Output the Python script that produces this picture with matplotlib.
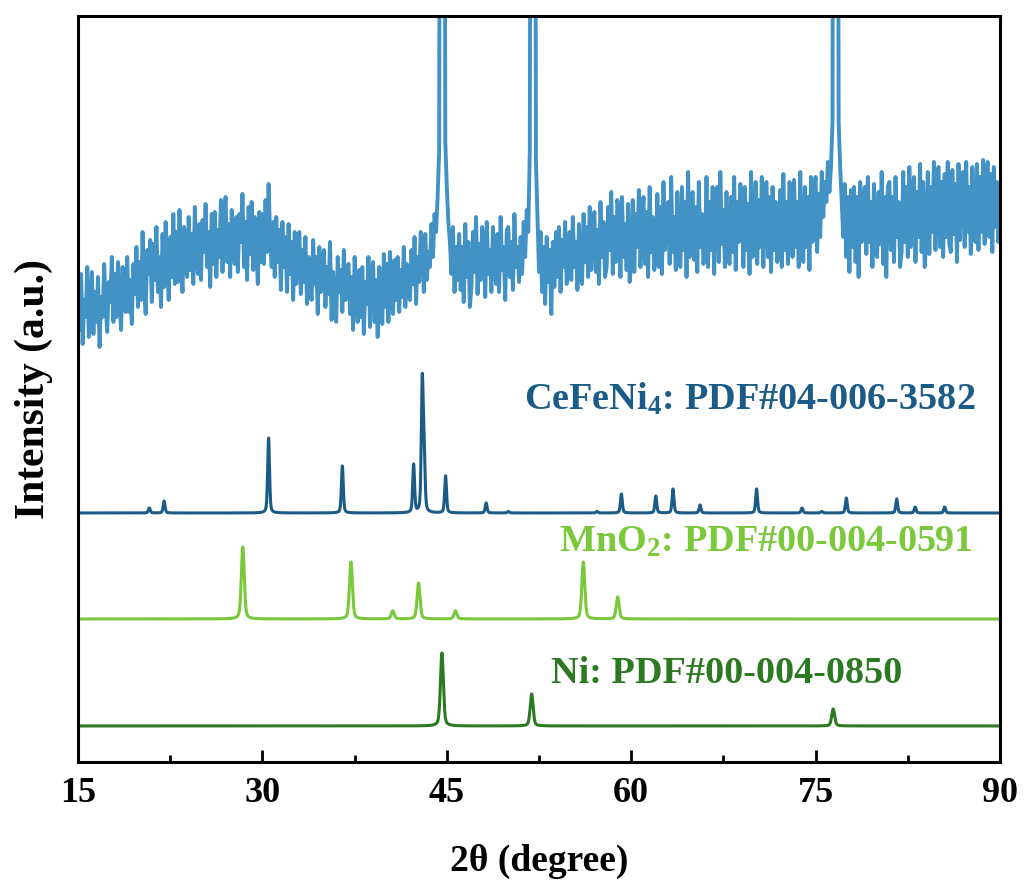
import numpy as np
import matplotlib
matplotlib.use('Agg')
import matplotlib.pyplot as plt
from matplotlib.ticker import MultipleLocator

plt.rcParams['font.family'] = ['Liberation Serif', 'DejaVu Serif']
plt.rcParams['font.weight'] = 'bold'
plt.rcParams['mathtext.fontset'] = 'custom'
plt.rcParams['mathtext.rm'] = 'Liberation Serif:bold'
plt.rcParams['mathtext.it'] = 'Liberation Serif:bold'
plt.rcParams['mathtext.bf'] = 'Liberation Serif:bold'

# measured pattern, 0.125 deg steps from 15 to 90 (one row per degree, offset units)
exp_start, exp_step = 15.0, 0.125
exp_y = [
    470, 432, 488, 418, 462, 445, 495, 425,   # 15
    452, 490, 428, 470, 440, 485, 415, 465,   # 16
    445, 498, 455, 430, 480, 460, 505, 440,   # 17
    488, 445, 500, 462, 432, 495, 470, 450,   # 18
    505, 450, 482, 438, 498, 468, 515, 455,   # 19
    500, 462, 530, 475, 448, 512, 488, 522,   # 20
    460, 518, 482, 535, 470, 505, 455, 528,   # 21
    475, 540, 495, 462, 525, 485, 548, 478,   # 22
    530, 480, 552, 498, 470, 535, 510, 485,   # 23
    545, 492, 528, 478, 555, 505, 488, 538,   # 24
    482, 542, 510, 558, 495, 530, 475, 548,   # 25
    498, 550, 485, 532, 505, 562, 490, 540,   # 26
    565, 500, 538, 485, 552, 512, 498, 545,   # 27
    490, 548, 520, 568, 495, 540, 482, 555,   # 28
    508, 560, 492, 545, 515, 478, 550, 500,   # 29
    548, 498, 562, 510, 578, 525, 495, 540,   # 30
    485, 545, 500, 532, 472, 540, 495, 525,   # 31
    470, 538, 488, 520, 462, 530, 478, 515,   # 32
    530, 468, 512, 480, 525, 458, 505, 475,   # 33
    462, 522, 478, 505, 448, 515, 470, 500,   # 34
    512, 455, 495, 468, 520, 442, 490, 460,   # 35
    440, 505, 470, 492, 450, 512, 462, 488,   # 36
    498, 448, 485, 432, 505, 465, 440, 492,   # 37
    445, 495, 428, 480, 458, 505, 435, 488,   # 38
    500, 440, 482, 425, 495, 462, 438, 508,   # 39
    455, 498, 440, 510, 468, 448, 502, 462,   # 40
    505, 450, 492, 465, 515, 455, 498, 470,   # 41
    462, 512, 478, 525, 458, 505, 480, 530,   # 42
    515, 470, 528, 482, 510, 495, 538, 505,   # 43
    548, 530, 565, 610, 1500, 3000, 1500, 620,   # 44
    575, 540, 520, 488, 535, 470, 515, 482,   # 45
    528, 472, 515, 460, 538, 485, 520, 455,   # 46
    475, 530, 490, 545, 468, 518, 482, 535,   # 47
    522, 465, 540, 488, 512, 470, 535, 495,   # 48
    478, 528, 470, 545, 492, 515, 462, 532,   # 49
    535, 485, 520, 472, 548, 495, 515, 480,   # 50
    525, 488, 540, 505, 552, 530, 610, 1500,  # 51
    3000, 1500, 600, 545, 490, 530, 470, 515,  # 52
    458, 525, 480, 512, 448, 520, 475, 530,   # 53
    485, 535, 470, 522, 495, 540, 478, 518,   # 54
    530, 482, 545, 495, 520, 472, 538, 490,   # 55
    478, 548, 500, 535, 485, 555, 492, 528,   # 56
    550, 490, 532, 478, 560, 505, 540, 485,   # 57
    495, 555, 512, 570, 488, 545, 500, 562,   # 58
    545, 485, 565, 505, 538, 492, 558, 480,   # 59
    500, 562, 490, 548, 515, 572, 495, 540,   # 60
    565, 498, 550, 485, 575, 510, 545, 492,   # 61
    505, 568, 495, 555, 488, 580, 512, 550,   # 62
    560, 498, 585, 510, 545, 492, 570, 505,   # 63
    495, 575, 512, 560, 485, 590, 505, 565,   # 64
    570, 502, 555, 490, 580, 515, 548, 498,   # 65
    508, 585, 495, 560, 512, 575, 488, 565,   # 66
    575, 500, 590, 518, 552, 495, 570, 510,   # 67
    498, 565, 510, 585, 492, 560, 520, 578,   # 68
    565, 495, 575, 512, 558, 488, 590, 505,   # 69
    510, 580, 498, 562, 515, 585, 495, 570,   # 70
    580, 505, 565, 490, 575, 512, 560, 500,   # 71
    508, 572, 495, 588, 512, 560, 498, 580,   # 72
    570, 505, 582, 515, 560, 495, 590, 510,   # 73
    500, 575, 515, 565, 492, 585, 520, 570,   # 74
    585, 510, 568, 525, 590, 545, 580, 560,   # 75
    600, 570, 595, 640, 1500, 3000, 1500, 640,   # 76
    595, 560, 525, 578, 505, 565, 490, 572,   # 77
    515, 575, 500, 565, 485, 580, 520, 558,   # 78
    575, 508, 585, 520, 560, 495, 578, 512,   # 79
    505, 570, 518, 590, 498, 565, 485, 575,   # 80
    580, 512, 565, 500, 585, 525, 560, 495,   # 81
    510, 590, 520, 575, 505, 595, 515, 570,   # 82
    585, 500, 570, 525, 598, 510, 580, 495,   # 83
    520, 590, 508, 575, 530, 600, 512, 582,   # 84
    595, 515, 580, 505, 588, 525, 600, 518,   # 85
    510, 592, 528, 578, 500, 598, 522, 585,   # 86
    590, 515, 600, 530, 575, 508, 595, 525,   # 87
    520, 598, 512, 585, 530, 602, 518, 590,   # 88
    600, 525, 588, 510, 595, 535, 580, 520,   # 89
    565,
]

# reference cards: peak positions (2theta) and heights
cefeni_pos = [20.8, 22.0, 30.5, 36.5, 42.3, 43.0, 43.15, 44.9, 48.2, 50.0, 57.2, 59.2,
              62.0, 63.4, 65.6, 70.2, 73.9, 75.5, 77.5, 81.6, 83.1, 85.5]
cefeni_h = [5, 12, 75, 47, 48, 128, 55, 37, 10, 1.5, 1.5, 19,
            17, 24, 8, 24, 5, 1.5, 15, 14, 6, 6]
mno2_pos = [28.4, 37.2, 40.6, 42.7, 45.7, 56.1, 58.9]
mno2_h = [72, 57, 8, 36, 8, 57, 22]
ni_pos = [44.6, 51.9, 76.43]
ni_h = [73, 32, 17]

base_cefeni, base_mno2, base_ni = 249, 143, 36

c_exp = '#4292c6'
c_cefeni = '#1b5b88'
c_mno2 = '#79c93b'
c_ni = '#2b7a22'


def profile(x, pos, h, w):
    y = np.zeros_like(x)
    for p, a in zip(pos, h):
        g = np.exp(-4 * np.log(2) * ((x - p) / w) ** 2)
        l = 1 / (1 + 4 * ((x - p) / w) ** 2)
        y += a * (0.6 * g + 0.4 * l)
    return y


fig = plt.figure(figsize=(10.27, 8.94), dpi=100)
ax = fig.add_axes([0.076, 0.1477, 0.8977, 0.8344])

x_exp = exp_start + exp_step * np.arange(len(exp_y))
ax.plot(x_exp, exp_y, color=c_exp, lw=2.8)

xx = np.linspace(15, 90, 7501)
ax.plot(xx, base_cefeni + profile(xx, cefeni_pos, cefeni_h, 0.18), color=c_cefeni, lw=2.2)
ax.plot(xx, base_mno2 + profile(xx, mno2_pos, mno2_h, 0.28), color=c_mno2, lw=2.2)
ax.plot(xx, base_ni + profile(xx, ni_pos, ni_h, 0.28), color=c_ni, lw=2.2)

ax.text(51.3, 352, r'CeFeNi$_{4}$: PDF#04-006-3582', color=c_cefeni, fontsize=27.5,
        fontweight='bold', va='baseline')
ax.text(54.1, 210, r'MnO$_{2}$: PDF#00-004-0591', color=c_mno2, fontsize=27.5,
        fontweight='bold', va='baseline')
ax.text(53.5, 79, 'Ni: PDF#00-004-0850', color=c_ni, fontsize=27.5,
        fontweight='bold', va='baseline')

ax.set_xlim(15, 90)
ax.set_ylim(0, 746)
ax.xaxis.set_major_locator(MultipleLocator(15))
ax.xaxis.set_minor_locator(MultipleLocator(7.5))
ax.set_yticks([])
ax.tick_params(axis='x', which='major', direction='in', length=9, width=2, labelsize=26, pad=11)
ax.tick_params(axis='x', which='minor', direction='in', length=5, width=2)
for s in ax.spines.values():
    s.set_linewidth(2.2)

ax.set_xlabel('2θ (degree)', fontsize=27, fontweight='bold', labelpad=24)
ax.set_ylabel('Intensity (a.u.)', fontsize=30, fontweight='bold', labelpad=18)

fig.savefig('out.png', dpi=100)
